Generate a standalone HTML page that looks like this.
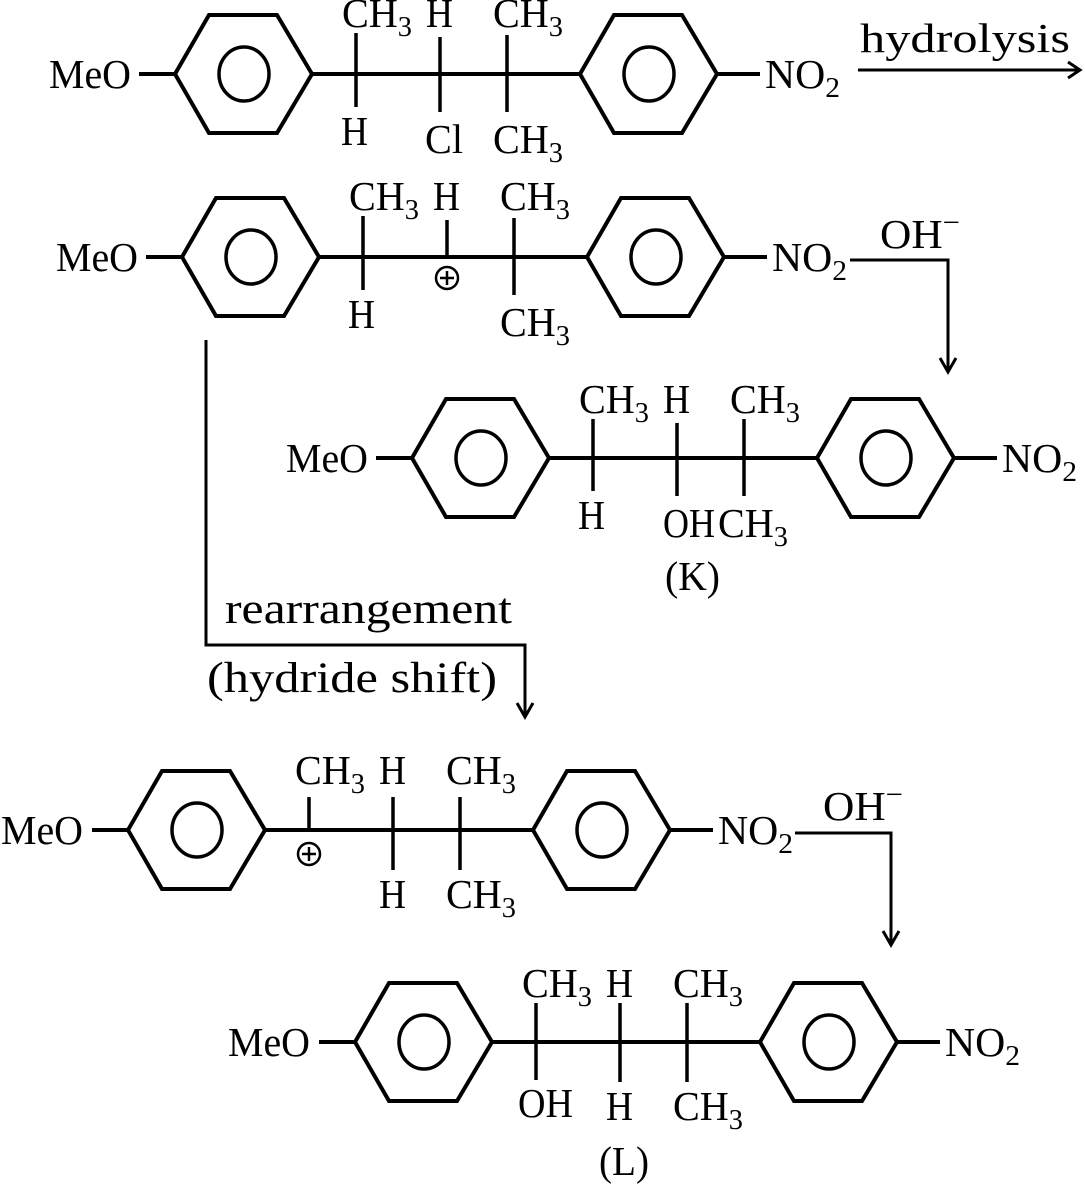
<!DOCTYPE html>
<html><head><meta charset="utf-8"><style>
html,body{margin:0;padding:0;background:#fff;}
svg{display:block;}
text{font-family:"Liberation Serif",serif;font-size:41px;fill:#000;}
.s{font-size:29px;}
</style></head><body>
<svg width="1085" height="1190" viewBox="0 0 1085 1190" xmlns="http://www.w3.org/2000/svg">
<defs>
<g id="mol" fill="none" stroke="#000" stroke-width="4">
<line x1="-36" y1="0" x2="0" y2="0"/>
<polygon points="0,0 34,-59 102,-59 137,0 102,59 34,59"/>
<ellipse cx="69" cy="0" rx="25" ry="27" stroke-width="3.5"/>
<line x1="137" y1="0" x2="405" y2="0"/>
<polygon points="405,0 439,-59 507,-59 542,0 507,59 439,59"/>
<ellipse cx="474" cy="0" rx="25" ry="27" stroke-width="3.5"/>
<line x1="542" y1="0" x2="585" y2="0"/>
</g>
</defs>

<!-- Row 1 -->
<g transform="translate(175,74)">
<use href="#mol"/>
<g stroke="#000" stroke-width="3.5">
<line x1="181" y1="-41" x2="181" y2="33"/>
<line x1="265" y1="-37" x2="265" y2="38"/>
<line x1="332" y1="-39" x2="332" y2="38"/>
</g>
<text x="-126" y="14" textLength="82" lengthAdjust="spacingAndGlyphs">MeO</text>
<text x="167" y="-47" textLength="70" lengthAdjust="spacingAndGlyphs">CH<tspan class="s" dy="9">3</tspan></text>
<text x="251" y="-47" textLength="27" lengthAdjust="spacingAndGlyphs">H</text>
<text x="318" y="-47" textLength="70" lengthAdjust="spacingAndGlyphs">CH<tspan class="s" dy="9">3</tspan></text>
<text x="166" y="71" textLength="27" lengthAdjust="spacingAndGlyphs">H</text>
<text x="250" y="79" textLength="38" lengthAdjust="spacingAndGlyphs">Cl</text>
<text x="318" y="79" textLength="70" lengthAdjust="spacingAndGlyphs">CH<tspan class="s" dy="9">3</tspan></text>
<text x="590" y="14" textLength="75" lengthAdjust="spacingAndGlyphs">NO<tspan class="s" dy="9">2</tspan></text>
</g>
<line x1="858" y1="70" x2="1078" y2="70" stroke="#000" stroke-width="3"/>
<polyline points="1068,62 1080,70 1068,78" fill="none" stroke="#000" stroke-width="3"/>
<text x="860" y="52" textLength="210" lengthAdjust="spacingAndGlyphs">hydrolysis</text>

<!-- Row 2 -->
<g transform="translate(182,257)">
<use href="#mol"/>
<g stroke="#000" stroke-width="3.5">
<line x1="181" y1="-41" x2="181" y2="33"/>
<line x1="265" y1="-37" x2="265" y2="0"/>
<line x1="332" y1="-39" x2="332" y2="38"/>
</g>
<circle cx="265" cy="21" r="11" fill="none" stroke="#000" stroke-width="2.5"/>
<line x1="258" y1="21" x2="272" y2="21" stroke="#000" stroke-width="2.5"/>
<line x1="265" y1="14" x2="265" y2="28" stroke="#000" stroke-width="2.5"/>
<text x="-126" y="14" textLength="82" lengthAdjust="spacingAndGlyphs">MeO</text>
<text x="167" y="-47" textLength="70" lengthAdjust="spacingAndGlyphs">CH<tspan class="s" dy="9">3</tspan></text>
<text x="251" y="-47" textLength="27" lengthAdjust="spacingAndGlyphs">H</text>
<text x="318" y="-47" textLength="70" lengthAdjust="spacingAndGlyphs">CH<tspan class="s" dy="9">3</tspan></text>
<text x="166" y="71" textLength="27" lengthAdjust="spacingAndGlyphs">H</text>
<text x="318" y="79" textLength="70" lengthAdjust="spacingAndGlyphs">CH<tspan class="s" dy="9">3</tspan></text>
<text x="590" y="14" textLength="75" lengthAdjust="spacingAndGlyphs">NO<tspan class="s" dy="9">2</tspan></text>
</g>
<polyline points="850,260 948,260 948,370" fill="none" stroke="#000" stroke-width="3"/>
<polyline points="940,358 948,372 956,358" fill="none" stroke="#000" stroke-width="3"/>
<text x="880" y="248" textLength="80" lengthAdjust="spacingAndGlyphs">OH<tspan class="s" dy="-16">−</tspan></text>

<!-- K -->
<g transform="translate(412,458)">
<use href="#mol"/>
<g stroke="#000" stroke-width="3.5">
<line x1="181" y1="-39" x2="181" y2="33"/>
<line x1="265" y1="-35" x2="265" y2="38"/>
<line x1="332" y1="-39" x2="332" y2="38"/>
</g>
<text x="-126" y="14" textLength="82" lengthAdjust="spacingAndGlyphs">MeO</text>
<text x="167" y="-45" textLength="70" lengthAdjust="spacingAndGlyphs">CH<tspan class="s" dy="9">3</tspan></text>
<text x="251" y="-45" textLength="27" lengthAdjust="spacingAndGlyphs">H</text>
<text x="318" y="-45" textLength="70" lengthAdjust="spacingAndGlyphs">CH<tspan class="s" dy="9">3</tspan></text>
<text x="166" y="71" textLength="27" lengthAdjust="spacingAndGlyphs">H</text>
<text x="251" y="79" textLength="52" lengthAdjust="spacingAndGlyphs">OH</text>
<text x="306" y="79" textLength="70" lengthAdjust="spacingAndGlyphs">CH<tspan class="s" dy="9">3</tspan></text>
<text x="590" y="14" textLength="75" lengthAdjust="spacingAndGlyphs">NO<tspan class="s" dy="9">2</tspan></text>
</g>
<text x="665" y="590" textLength="55" lengthAdjust="spacingAndGlyphs">(K)</text>

<!-- rearrangement arrow -->
<polyline points="206,340 206,645 525,645 525,715" fill="none" stroke="#000" stroke-width="3"/>
<polyline points="517,703 525,717 533,703" fill="none" stroke="#000" stroke-width="3"/>
<text x="225" y="623" style="font-size:43px" textLength="287" lengthAdjust="spacingAndGlyphs">rearrangement</text>
<text x="207" y="692" style="font-size:43px" textLength="290" lengthAdjust="spacingAndGlyphs">(hydride shift)</text>

<!-- Cation L -->
<g transform="translate(128,830)">
<use href="#mol"/>
<g stroke="#000" stroke-width="3.5">
<line x1="181" y1="-33" x2="181" y2="0"/>
<line x1="265" y1="-33" x2="265" y2="40"/>
<line x1="332" y1="-33" x2="332" y2="40"/>
</g>
<circle cx="181" cy="24" r="11" fill="none" stroke="#000" stroke-width="2.5"/>
<line x1="174" y1="24" x2="188" y2="24" stroke="#000" stroke-width="2.5"/>
<line x1="181" y1="17" x2="181" y2="31" stroke="#000" stroke-width="2.5"/>
<text x="-127" y="14" textLength="82" lengthAdjust="spacingAndGlyphs">MeO</text>
<text x="167" y="-46" textLength="70" lengthAdjust="spacingAndGlyphs">CH<tspan class="s" dy="9">3</tspan></text>
<text x="251" y="-46" textLength="27" lengthAdjust="spacingAndGlyphs">H</text>
<text x="318" y="-46" textLength="70" lengthAdjust="spacingAndGlyphs">CH<tspan class="s" dy="9">3</tspan></text>
<text x="251" y="78" textLength="27" lengthAdjust="spacingAndGlyphs">H</text>
<text x="318" y="78" textLength="70" lengthAdjust="spacingAndGlyphs">CH<tspan class="s" dy="9">3</tspan></text>
<text x="590" y="14" textLength="75" lengthAdjust="spacingAndGlyphs">NO<tspan class="s" dy="9">2</tspan></text>
</g>
<polyline points="795,833 891,833 891,943" fill="none" stroke="#000" stroke-width="3"/>
<polyline points="883,931 891,945 899,931" fill="none" stroke="#000" stroke-width="3"/>
<text x="823" y="820" textLength="80" lengthAdjust="spacingAndGlyphs">OH<tspan class="s" dy="-16">−</tspan></text>

<!-- L -->
<g transform="translate(355,1042)">
<use href="#mol"/>
<g stroke="#000" stroke-width="3.5">
<line x1="181" y1="-39" x2="181" y2="38"/>
<line x1="265" y1="-39" x2="265" y2="40"/>
<line x1="332" y1="-39" x2="332" y2="40"/>
</g>
<text x="-127" y="14" textLength="82" lengthAdjust="spacingAndGlyphs">MeO</text>
<text x="167" y="-45" textLength="70" lengthAdjust="spacingAndGlyphs">CH<tspan class="s" dy="9">3</tspan></text>
<text x="251" y="-45" textLength="27" lengthAdjust="spacingAndGlyphs">H</text>
<text x="318" y="-45" textLength="70" lengthAdjust="spacingAndGlyphs">CH<tspan class="s" dy="9">3</tspan></text>
<text x="163" y="75" textLength="55" lengthAdjust="spacingAndGlyphs">OH</text>
<text x="251" y="78" textLength="27" lengthAdjust="spacingAndGlyphs">H</text>
<text x="318" y="78" textLength="70" lengthAdjust="spacingAndGlyphs">CH<tspan class="s" dy="9">3</tspan></text>
<text x="590" y="14" textLength="75" lengthAdjust="spacingAndGlyphs">NO<tspan class="s" dy="9">2</tspan></text>
</g>
<text x="599" y="1175" textLength="50" lengthAdjust="spacingAndGlyphs">(L)</text>
</svg>
</body></html>
